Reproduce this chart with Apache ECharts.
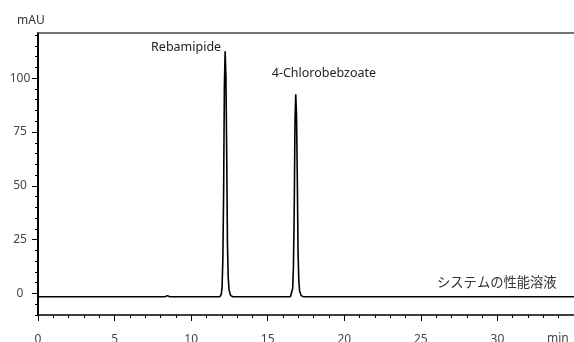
<!DOCTYPE html>
<html><head><meta charset="utf-8">
<script src="https://cdn.jsdelivr.net/npm/echarts@6/dist/echarts.min.js"></script>
<style>html,body{margin:0;padding:0;background:#fff}#c{width:574px;height:342px}</style>
</head><body><div id="c"></div>
<script>
// retention time (min) and signal (mAU)
const times = [0, 2.6, 2.68, 2.76, 8.3, 8.45, 8.6,
  11.87, 11.97, 12.02, 12.07, 12.12, 12.17, 12.22, 12.27, 12.32, 12.37, 12.42, 12.47, 12.57, 12.72,
  16.48, 16.58, 16.63, 16.68, 16.73, 16.78, 16.83, 16.88, 16.93, 16.98, 17.03, 17.08, 17.18, 17.33,
  35];
const signal = [-1.5, -1.5, -1.8, -1.5, -1.5, -1.0, -1.5,
  -1.5, -0.4, 3.1, 15.6, 46.4, 96.5, 112.5, 101.1, 66.9, 23.6, 7.6, 1.9, -0.9, -1.5,
  -1.5, -0.6, 2.3, 12.6, 38.0, 79.3, 92.5, 83.1, 54.9, 19.2, 6.0, 1.3, -1.0, -1.5,
  -1.5];
const peakNames = ['Rebamipide', '4-Chlorobebzoate'];
const peakTimes = [12.22, 16.83];
const peakHeights = [112.5, 92.5];
const yMajor = [0, 25, 50, 75, 100];
const yMinor = [-10, -5, 0, 5, 10, 15, 20, 25, 30, 35, 40, 45, 50, 55, 60, 65, 70, 75, 80, 85, 90, 95, 100, 105, 110, 115, 120];
const xLabel = 'min', yLabel = 'mAU', sampleLabel = 'システムの性能溶液';

const font = '"Noto Sans", "Noto Sans CJK JP", sans-serif';
const chart = echarts.init(document.getElementById('c'));
const yBase = {type: 'value', min: -10, max: 121, position: 'left', splitLine: {show: false}};
chart.setOption({
  animation: false,
  grid: {left: 38, right: 0, top: 33, bottom: 27, containLabel: false, outerBoundsMode: 'none'},
  textStyle: {fontFamily: font},
  xAxis: [{
    type: 'value', min: 0, max: 35, interval: 5, position: 'bottom',
    axisLine: {onZero: false, lineStyle: {color: '#000', width: 1.5}},
    axisTick: {inside: false, length: 6, lineStyle: {color: '#000', width: 1}},
    minorTick: {show: true, splitNumber: 5, length: 3, lineStyle: {color: '#000', width: 1}},
    axisLabel: {margin: 19, fontSize: 12, color: '#444', fontFamily: font, showMaxLabel: false},
    splitLine: {show: false}, minorSplitLine: {show: false}
  }, {
    type: 'value', min: 0, max: 35, position: 'top',
    axisLine: {show: true, onZero: false, lineStyle: {color: '#444', width: 1.5}},
    axisTick: {show: false}, axisLabel: {show: false}, splitLine: {show: false}
  }],
  yAxis: [Object.assign({}, yBase, {
    axisLine: {show: true, onZero: false, lineStyle: {color: '#000', width: 2}},
    axisTick: {show: true, length: 6, customValues: yMajor, lineStyle: {color: '#000', width: 1}},
    axisLabel: {customValues: yMajor, margin: 18, align: 'center', fontSize: 12, color: '#444', fontFamily: font}
  }), Object.assign({}, yBase, {
    axisLine: {show: false, onZero: false},
    axisTick: {show: true, length: 3, customValues: yMinor, lineStyle: {color: '#000', width: 1}},
    axisLabel: {show: false}
  })],
  series: [{
    type: 'line', xAxisIndex: 0, yAxisIndex: 0,
    data: times.map((t, i) => [t, signal[i]]),
    showSymbol: false, symbol: 'none',
    lineStyle: {color: '#000', width: 1.6},
    markPoint: {
      symbol: 'circle', symbolSize: 0,
      data: peakNames.map((n, i) => ({
        name: n, coord: [peakTimes[i], peakHeights[i]],
        label: i === 0
          ? {show: true, formatter: n, position: 'inside', align: 'right', verticalAlign: 'middle', offset: [-4, -4], fontSize: 12.5, color: '#222', fontFamily: font}
          : {show: true, formatter: n, position: 'inside', align: 'left', verticalAlign: 'middle', offset: [-24, -21], fontSize: 12.5, color: '#222', fontFamily: font}
      }))
    }
  }],
  graphic: [
    {type: 'text', left: 17, top: 15, style: {text: yLabel, fontSize: 12, fill: '#333', fontFamily: font}},
    {type: 'text', left: 547, top: 333, style: {text: xLabel, fontSize: 12, fill: '#444', fontFamily: font}},
    {type: 'text', left: 437, top: 275, style: {text: sampleLabel, fontSize: 13.3, fill: '#333', fontFamily: '"Noto Sans CJK JP", sans-serif'}}
  ]
});
</script></body></html>
